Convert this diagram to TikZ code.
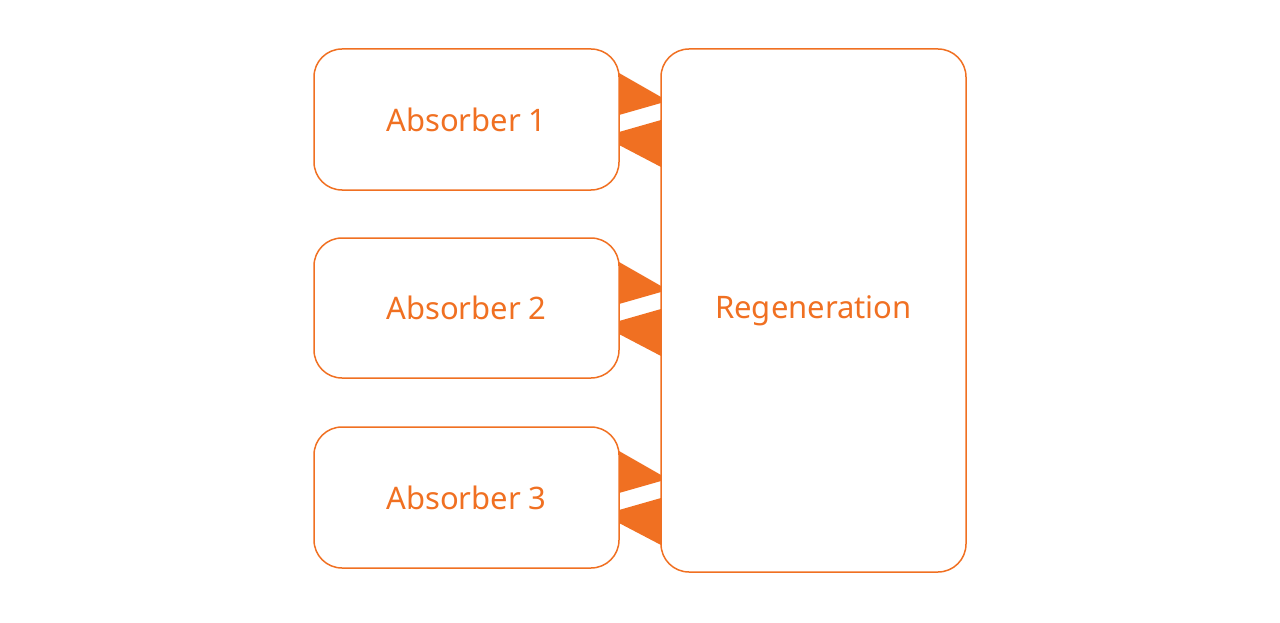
\documentclass[tikz,border=0pt]{standalone}
\usepackage{fontspec}
\setmainfont{Noto Sans}
\definecolor{org}{HTML}{F07022}
\begin{document}
\begin{tikzpicture}[x=1pt,y=-1pt,
 box/.style={draw=org,line width=1.5pt,rounded corners=28pt,text=org,font=\fontsize{31}{36}\selectfont},
 tri/.style={fill=org}]
\useasboundingbox (0,0) rectangle (1280,623);
\node[box,minimum width=305pt,minimum height=141pt] (a1) at (466.5,119.5) {Absorber 1};
\node[box,minimum width=305pt,minimum height=140pt] (a2) at (466.5,308) {Absorber 2};
\node[box,minimum width=305pt,minimum height=141pt] (a3) at (466.5,497.5) {Absorber 3};
\node[box,minimum width=305pt,minimum height=523pt] (r) at (813.5,310.5) {Regeneration};
\foreach \d in {0,189,378}{
 \fill[tri] (619,73+\d) -- (661,97+\d) -- (661,103+\d) -- (619,115+\d) -- cycle;
 \fill[tri] (619,132+\d) -- (661,120+\d) -- (661,167+\d) -- (619,145+\d) -- cycle;
}
\end{tikzpicture}
\end{document}
